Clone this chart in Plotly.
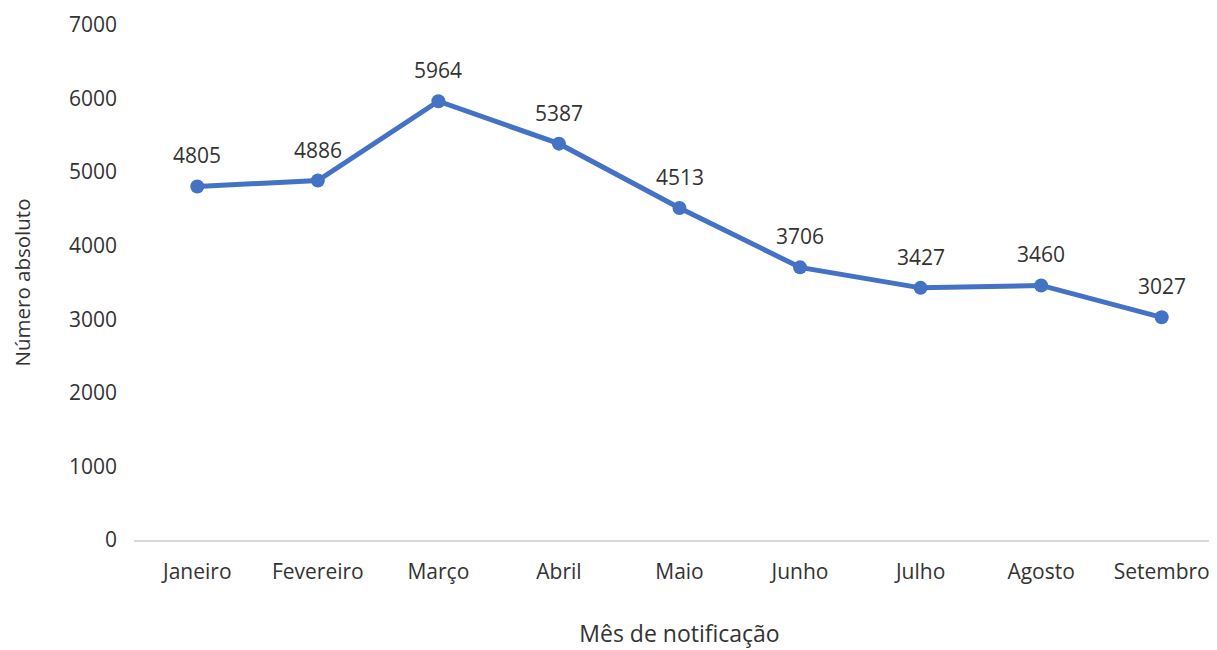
import plotly.graph_objects as go

months = ["Janeiro", "Fevereiro", "Março", "Abril", "Maio", "Junho", "Julho", "Agosto", "Setembro"]
values = [4805, 4886, 5964, 5387, 4513, 3706, 3427, 3460, 3027]
y_ticks = [0, 1000, 2000, 3000, 4000, 5000, 6000, 7000]

font = "Open Sans, Liberation Sans, sans-serif"
txt = "#333333"
fig = go.Figure()
fig.add_trace(go.Scatter(
    x=months, y=values, mode="lines+markers",
    line=dict(color="#4472C4", width=5),
    marker=dict(color="#4472C4", size=14),
    cliponaxis=False,
))
for m, v in zip(months, values):
    fig.add_annotation(x=m, y=v, text=str(v), showarrow=False, yshift=31,
                       font=dict(size=21, color=txt, family=font))
fig.update_layout(
    width=1217, height=650,
    margin=dict(l=126, r=0, t=17, b=118),
    paper_bgcolor="white", plot_bgcolor="white",
    showlegend=False,
    font=dict(family=font, size=21, color=txt),
)
fig.update_xaxes(
    title=dict(text="Mês de notificação", font=dict(size=23), standoff=42),
    showline=True, linecolor="#D9D9D9", linewidth=1.5,
    showgrid=False, ticks="", tickfont=dict(size=21), ticklabelstandoff=12,
)
fig.update_yaxes(
    title=dict(text="Número absoluto", font=dict(size=20.5), standoff=40),
    range=[0, 7000], tickvals=y_ticks, showgrid=False, showline=False,
    zeroline=False, ticks="", tickfont=dict(size=21), ticklabelstandoff=16,
)
fig.write_html("out.html")
